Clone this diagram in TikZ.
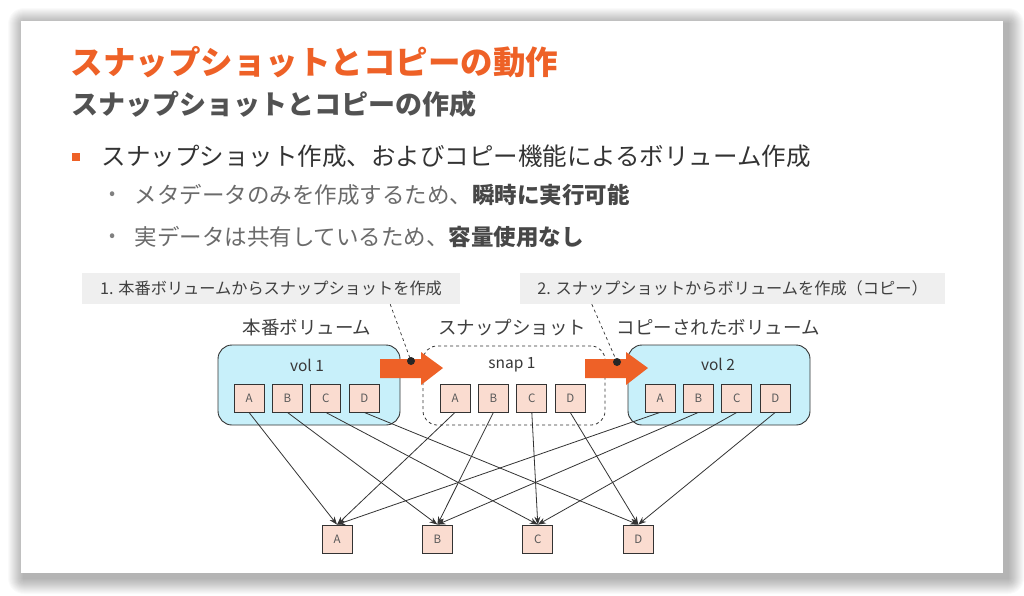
\documentclass[tikz,border=0pt]{standalone}
\usepackage{fontspec}
\setmainfont{Noto Sans CJK JP}
\usepackage{tikz}
\usetikzlibrary{arrows.meta}
\usetikzlibrary{positioning}

\definecolor{slideorange}{HTML}{EE6127}
\definecolor{volcyan}{HTML}{C8F0FA}
\definecolor{blkpink}{HTML}{FADCD0}
\definecolor{notegray}{HTML}{EFEFEF}
\definecolor{inkgray}{HTML}{333333}

\newcommand{\fsz}[1]{\fontsize{#1}{#1}\selectfont}

\begin{document}
\begin{tikzpicture}[x=1pt,y=-1pt,
    volbox/.style={draw=inkgray,fill=volcyan,rounded corners=14pt,
                   minimum width=182pt,minimum height=80pt,line width=0.9pt},
    snapbox/.style={draw=inkgray,dashed,rounded corners=14pt,
                   minimum width=182pt,minimum height=79pt,line width=0.8pt},
    blk/.style={draw=inkgray,fill=blkpink,minimum width=30pt,minimum height=28pt,
                inner sep=0pt,line width=0.8pt,text=black!65,font=\fsz{11.5}},
    note/.style={fill=notegray,minimum height=31pt,inner sep=0pt,
                 text=black!75,font=\fsz{16.2}},
    grplabel/.style={text=black!75,font=\fsz{18.5}},
    link/.style={draw=inkgray,line width=0.8pt,-{Stealth[length=8pt,width=6pt]}},
    bigarrow/.style={fill=slideorange}]
\useasboundingbox (0,0) rectangle (1024,595);
\fill[white] (0,0) rectangle (1024,595);
% slide with soft shadow
\foreach \i in {1,...,16}
    \fill[black,opacity=0.018,rounded corners=\i pt]
        (24-\i,24-\i) rectangle (1008+\i,578+\i);
\fill[white] (21,21) rectangle (1003,573);

% heading and bullets
\node[anchor=west,text=slideorange,font=\fsz{32.5}\bfseries] (title) at (67,62)
    {スナップショットとコピーの動作};
\node[anchor=west,text=black!68,font=\fsz{27}\bfseries] (subtitle) at (68,104)
    {スナップショットとコピーの作成};
\fill[slideorange] (72,153) rectangle (80,161);
\node[anchor=west,text=black!80,font=\fsz{24.5}] (item1) at (98,156)
    {スナップショット作成、およびコピー機能によるボリューム作成};
\node[text=black!50,font=\fsz{18}] at (113,196) {•};
\node[anchor=west,text=black!58,font=\fsz{22.5}] (item2) at (131,195)
    {メタデータのみを作成するため、{\color{black!72}\bfseries 瞬時に実行可能}};
\node[text=black!50,font=\fsz{18}] at (113,238) {•};
\node[anchor=west,text=black!58,font=\fsz{22.5}] (item3) at (131,237)
    {実データは共有しているため、{\color{black!72}\bfseries 容量使用なし}};

% callouts
\node[note,minimum width=378pt] (note1) at (271,288.5)
    {1. 本番ボリュームからスナップショットを作成};
\node[note,minimum width=425pt] (note2) at (732.5,288.5)
    {2. スナップショットからボリュームを作成（コピー）};

% volumes
\node[volbox] (vol1) at (309,385) {};
\node[snapbox] (snap1) at (514,385.5) {};
\node[volbox] (vol2) at (719,385) {};
\node[grplabel] (vol1lbl) at (307,327) {本番ボリューム};
\node[grplabel] (snap1lbl) at (512,327) {スナップショット};
\node[grplabel] (vol2lbl) at (718,327) {コピーされたボリューム};
\node[text=black!78,font=\fsz{15.5}] (vol1name) at (307,365) {vol 1};
\node[text=black!78,font=\fsz{15.5}] (snap1name) at (512,365) {snap 1};
\node[text=black!78,font=\fsz{15.5}] (vol2name) at (718,364) {vol 2};

\foreach \l [count=\i] in {A,B,C,D} {
    \node[blk] (v1\l) at ({249+38.4*(\i-1)},398) {\l};
    \node[blk] (s1\l) at ({455+38.4*(\i-1)},398) {\l};
    \node[blk] (v2\l) at ({660+38.4*(\i-1)},398) {\l};
    \node[blk] (bot\l) at ({337+100.4*(\i-1)},539) {\l};
}

% copy arrows
\foreach \s in {380,585}
    \fill[bigarrow] (\s,359) -- (\s+41,359) -- (\s+41,352) -- (\s+63,368)
        -- (\s+41,385) -- (\s+41,378) -- (\s,378) -- cycle;
\coordinate (dot1) at (411,361);
\coordinate (dot2) at (617,362);
\draw[dashed,inkgray,line width=0.7pt] ([xshift=-70pt]note1.south east) -- (dot1);
\draw[dashed,inkgray,line width=0.7pt] ([xshift=72pt]note2.south west) -- (dot2);
\fill[black!85] (dot1) circle (4pt);
\fill[black!85] (dot2) circle (4pt);

% block references
\foreach \g in {v1,s1,v2}
    \foreach \l in {A,B,C,D}
        \draw[link] (\g\l.south) -- (bot\l.north);
\end{tikzpicture}
\end{document}
